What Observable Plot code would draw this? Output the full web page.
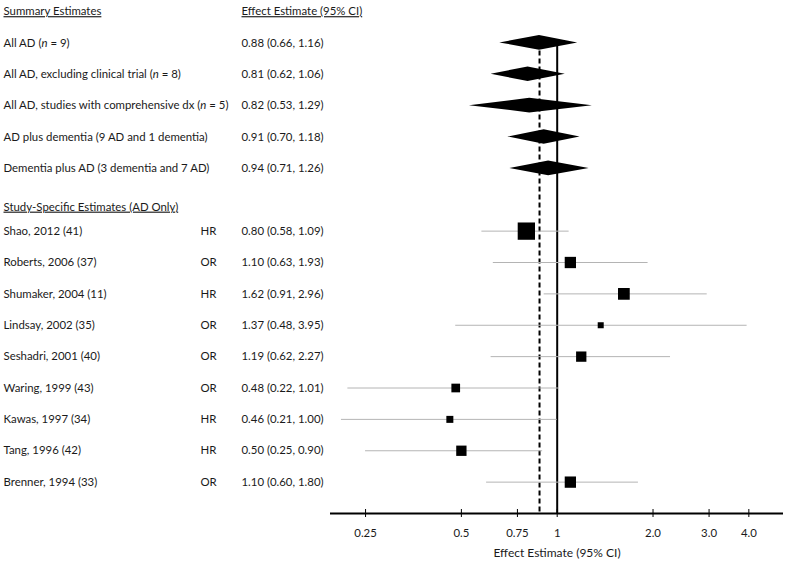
<!DOCTYPE html>
<html><head><meta charset="utf-8">
<script src="https://cdn.jsdelivr.net/npm/d3@7"></script>
<script src="https://cdn.jsdelivr.net/npm/@observablehq/plot@0.6"></script>
<style>body{margin:0;background:#fff} svg{display:block} text.ul{text-decoration:underline}</style>
</head><body><div id="chart"></div>
<script>
// ---- data ----
const summaryLabels = ["All AD (n = 9)", "All AD, excluding clinical trial (n = 8)", "All AD, studies with comprehensive dx (n = 5)", "AD plus dementia (9 AD and 1 dementia)", "Dementia plus AD (3 dementia and 7 AD)"];
const summaryEst = [0.88, 0.81, 0.82, 0.91, 0.94];
const summaryLo  = [0.66, 0.62, 0.53, 0.70, 0.71];
const summaryHi  = [1.16, 1.06, 1.29, 1.18, 1.26];

const studyLabels = ["Shao, 2012 (41)", "Roberts, 2006 (37)", "Shumaker, 2004 (11)", "Lindsay, 2002 (35)", "Seshadri, 2001 (40)", "Waring, 1999 (43)", "Kawas, 1997 (34)", "Tang, 1996 (42)", "Brenner, 1994 (33)"];
const studyMeasure = ["HR", "OR", "HR", "OR", "OR", "OR", "HR", "HR", "OR"];
const studyEst = [0.80, 1.10, 1.62, 1.37, 1.19, 0.48, 0.46, 0.50, 1.10];
const studyLo  = [0.58, 0.63, 0.91, 0.48, 0.62, 0.22, 0.21, 0.25, 0.60];
const studyHi  = [1.09, 1.93, 2.96, 3.95, 2.27, 1.01, 1.00, 0.90, 1.80];
const studyWeight = [28.1, 12.0, 12.9, 3.4, 10.0, 7.1, 4.6, 10.0, 12.0];

const tickValues = [0.25, 0.5, 0.75, 1, 2, 3, 4];
const tickLabels = ["0.25", "0.5", "0.75", "1", "2.0", "3.0", "4.0"];
const summaryHeader = "Summary Estimates";
const estimateHeader = "Effect Estimate (95% CI)";
const studyHeader = "Study-Specific Estimates (AD Only)";
const xLabel = "Effect Estimate (95% CI)";
const pooledEstimate = 0.88;
const nullValue = 1;

// ---- table built from the arrays ----
const f = d3.format(".2f");
const summary = summaryLabels.map((label, i) => ({label, row: i + 1, est: summaryEst[i], lo: summaryLo[i], hi: summaryHi[i],
  ci: `${f(summaryEst[i])} (${f(summaryLo[i])}, ${f(summaryHi[i])})`}));
const studies = studyLabels.map((label, i) => ({label, row: i + 7, measure: studyMeasure[i], est: studyEst[i], lo: studyLo[i], hi: studyHi[i], w: studyWeight[i],
  ci: `${f(studyEst[i])} (${f(studyLo[i])}, ${f(studyHi[i])})`}));
const lastRow = 16;
const dh = 0.233; // diamond half-height in row units
const diamonds = summary.flatMap((d, i) => [
  {x: d.lo, y1: d.row, y2: d.row, z: i},
  {x: d.est, y1: d.row - dh, y2: d.row + dh, z: i},
  {x: d.hi, y1: d.row, y2: d.row, z: i}
]);

const ink = "#1a1a1a";
const colLabel = -327, colMeasure = -130, colCI = -89;

const svg = Plot.plot({
  width: 785,
  height: 565,
  marginLeft: 330,
  marginRight: 2,
  marginTop: 11,
  marginBottom: 52,
  style: {fontFamily: "Lato, 'Open Sans', sans-serif", fontSize: "11.4px", background: "#fff"},
  x: {type: "log", domain: [0.194, 5.14], axis: null},
  y: {domain: [0, lastRow], range: [11, 513], axis: null},
  r: {type: "sqrt", domain: [0, 28.1], range: [0, 9.76]},
  marks: [
    // reference lines
    Plot.ruleX([nullValue], {x: d => d, y1: 1, y2: lastRow, stroke: "black", strokeWidth: 2}),
    Plot.ruleX([pooledEstimate], {x: d => d, y1: 1, y2: lastRow, stroke: "black", strokeWidth: 2, strokeDasharray: "5,3"}),
    // confidence intervals
    Plot.ruleY(studies, {y: "row", x1: "lo", x2: "hi", stroke: "#b4b4b4", strokeWidth: 1}),
    // summary diamonds
    Plot.areaY(diamonds, {x: "x", y1: "y1", y2: "y2", z: "z", fill: "black", curve: "linear"}),
    // study squares
    Plot.dot(studies, {x: "est", y: "row", r: "w", symbol: "square", fill: "black", stroke: null}),
    // axis
    Plot.ruleY([lastRow], {y: d => d, stroke: "black", strokeWidth: 2}),
    Plot.ruleX(tickValues, {x: d => d, y1: lastRow, y2: lastRow, insetTop: -4, insetBottom: -4, stroke: "black", strokeWidth: 1}),
    Plot.text(tickValues, {x: d => d, y: lastRow, dy: 20, text: (d, i) => tickLabels[i], fill: ink, fontSize: 11.4}),
    Plot.text([xLabel], {frameAnchor: "bottom", dy: 43, text: d => d, fill: ink, fontSize: 12}),
    // headers
    Plot.text([summaryHeader], {y: 0, frameAnchor: "left", dx: colLabel, textAnchor: "start", text: d => d, fill: ink}),
    Plot.text([estimateHeader], {y: 0, frameAnchor: "left", dx: colCI, textAnchor: "start", text: d => d, fill: ink}),
    Plot.text([studyHeader], {y: 6.23, frameAnchor: "left", dx: colLabel, textAnchor: "start", text: d => d, fill: ink}),
    // table text
    Plot.text(summary, {y: "row", frameAnchor: "left", dx: colLabel, textAnchor: "start", text: "label", fill: ink}),
    Plot.text(summary, {y: "row", frameAnchor: "left", dx: colCI, textAnchor: "start", text: "ci", fill: ink}),
    Plot.text(studies, {y: "row", frameAnchor: "left", dx: colLabel, textAnchor: "start", text: "label", fill: ink}),
    Plot.text(studies, {y: "row", frameAnchor: "left", dx: colMeasure, textAnchor: "start", text: "measure", fill: ink}),
    Plot.text(studies, {y: "row", frameAnchor: "left", dx: colCI, textAnchor: "start", text: "ci", fill: ink})
  ]
});

const headerTexts = new Set([summaryHeader, estimateHeader, studyHeader]);
const axisTitleNode = svg.querySelectorAll("text");
let seenEstimateHeader = false;
d3.select(svg).selectAll("text").each(function() {
  const s = d3.select(this);
  const t = this.textContent;
  // underline table headers (the axis title shares the estimate header's text; it is the first one drawn)
  if (headerTexts.has(t)) {
    if (t === xLabel && !seenEstimateHeader) { seenEstimateHeader = true; }
    else { s.attr("class", "ul").style("text-decoration", "underline"); }
  }
  // italic n
  const m = t.match(/^(.*\()n( = .*)$/);
  if (m) {
    s.text(null);
    s.append("tspan").text(m[1]);
    s.append("tspan").attr("font-style", "italic").text("n");
    s.append("tspan").text(m[2]);
  }
});
document.getElementById("chart").appendChild(svg);
</script>
</body></html>
